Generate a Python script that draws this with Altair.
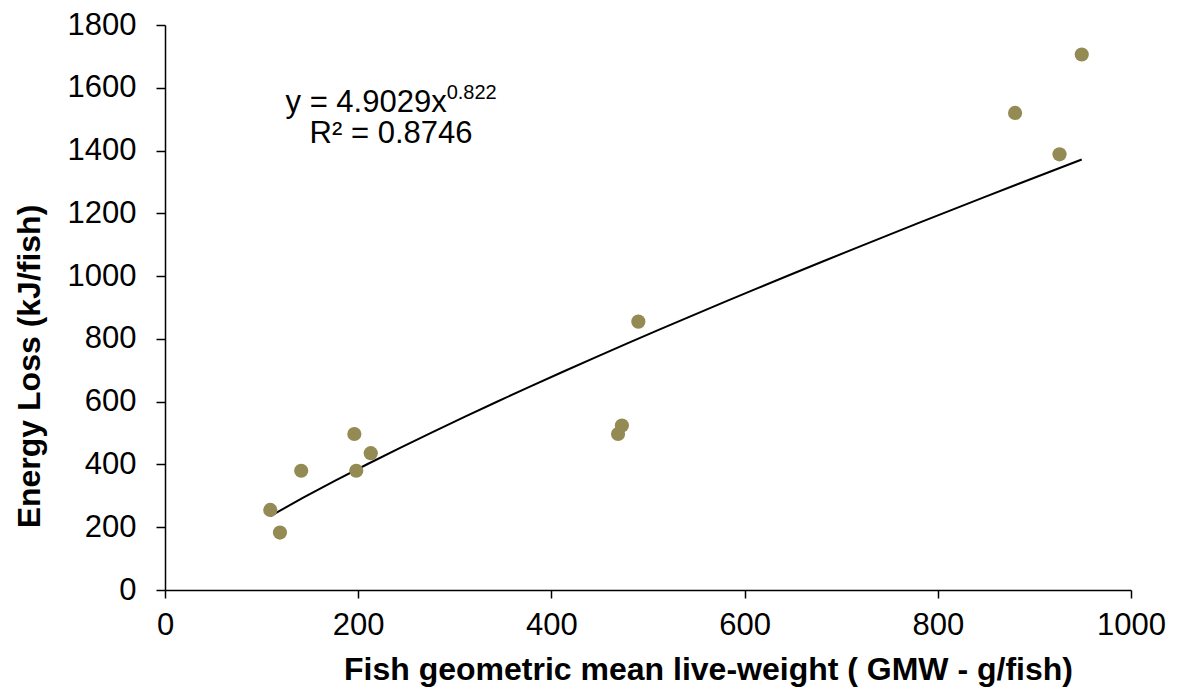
import altair as alt
import pandas as pd

# Data
gmw = [109, 119, 141, 196, 198, 213, 469, 473, 490, 880, 926, 949]
energy = [255, 183, 380, 497, 380, 436, 497, 524, 855, 1520, 1388, 1706]

# Trendline annotation (text and anchor positions in data units)
eq_main = ["y = 4.9029x"]
eq_main_x = [291.6]
eq_main_y = [1524]
eq_sup = ["0.822"]
eq_sup_x = [291.6]
eq_sup_y = [1563]
r2_text = ["R² = 0.8746"]
r2_x = [234]
r2_y = [1425]

FONT = "Liberation Sans"
POINT_COLOR = "#948A54"

df = pd.DataFrame({"gmw": gmw, "energy": energy})

xscale = alt.Scale(domain=[0, 1000], nice=False, zero=True)
yscale = alt.Scale(domain=[0, 1800], nice=False, zero=True)

xaxis = alt.Axis(
    title="Fish geometric mean live-weight ( GMW - g/fish)",
    values=[0, 200, 400, 600, 800, 1000],
    format="d",
    labelFlush=False,
    grid=False,
    domainColor="black",
    domainWidth=1.5,
    tickColor="black",
    tickWidth=1.5,
    tickSize=8,
    labelPadding=12,
    labelFont=FONT,
    labelFontSize=31,
    labelColor="black",
    titleFont=FONT,
    titleFontSize=32,
    titleFontWeight="bold",
    titleColor="black",
    titlePadding=14,
    titleX=543,
)
yaxis = alt.Axis(
    title="Energy Loss (kJ/fish)",
    values=[0, 200, 400, 600, 800, 1000, 1200, 1400, 1600, 1800],
    format="d",
    labelFlush=False,
    grid=False,
    domainColor="black",
    domainWidth=1.5,
    tickColor="black",
    tickWidth=1.5,
    tickSize=9,
    labelPadding=20,
    labelFont=FONT,
    labelFontSize=31,
    labelColor="black",
    titleFont=FONT,
    titleFontSize=32,
    titleFontWeight="bold",
    titleColor="black",
    titlePadding=21,
    titleY=341,
)

points = alt.Chart(df).mark_circle(size=201, opacity=1, color=POINT_COLOR).encode(
    x=alt.X("gmw:Q", scale=xscale, axis=xaxis),
    y=alt.Y("energy:Q", scale=yscale, axis=yaxis),
)

trend = (
    alt.Chart(df)
    .transform_regression("gmw", "energy", method="pow")
    .mark_line(color="black", strokeWidth=2)
    .encode(
        x=alt.X("gmw:Q", scale=xscale),
        y=alt.Y("energy:Q", scale=yscale),
    )
)

eq1 = alt.Chart(pd.DataFrame({"t": eq_main, "x": eq_main_x, "y": eq_main_y})).mark_text(
    align="right", baseline="alphabetic", font=FONT, fontSize=31, color="black"
).encode(x=alt.X("x:Q", scale=xscale), y=alt.Y("y:Q", scale=yscale), text="t:N")

eq2 = alt.Chart(pd.DataFrame({"t": eq_sup, "x": eq_sup_x, "y": eq_sup_y})).mark_text(
    align="left", baseline="alphabetic", font=FONT, fontSize=20, color="black"
).encode(x=alt.X("x:Q", scale=xscale), y=alt.Y("y:Q", scale=yscale), text="t:N")

eq3 = alt.Chart(pd.DataFrame({"t": r2_text, "x": r2_x, "y": r2_y})).mark_text(
    align="center", baseline="alphabetic", font=FONT, fontSize=31, color="black"
).encode(x=alt.X("x:Q", scale=xscale), y=alt.Y("y:Q", scale=yscale), text="t:N")

chart = (
    alt.layer(trend, points, eq1, eq2, eq3)
    .properties(
        width=966,
        height=565,
        autosize=alt.AutoSizeParams(type="none"),
        padding={"left": 157, "top": 17, "right": 38, "bottom": 100},
        background="white",
    )
    .configure_view(stroke=None)
)

chart.save("out.html", embed_options={"renderer": "svg", "actions": False})
